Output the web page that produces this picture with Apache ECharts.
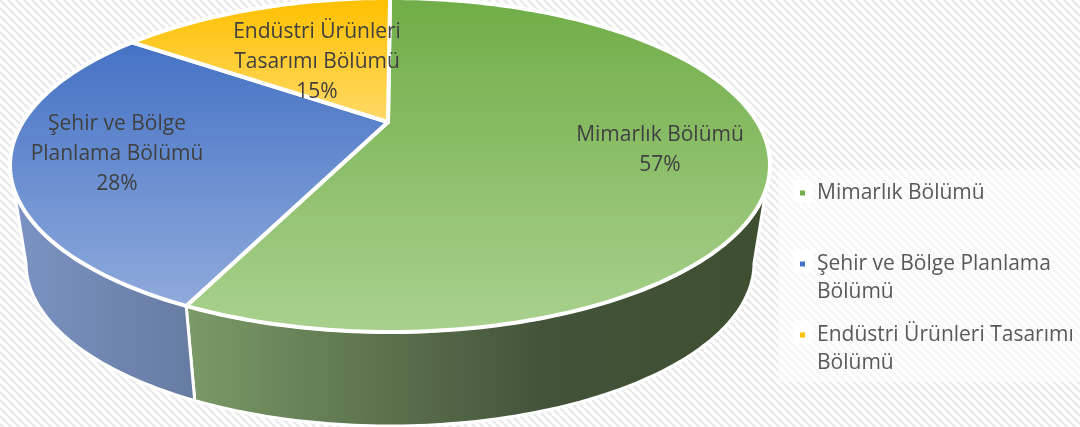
<!DOCTYPE html>
<html><head><meta charset="utf-8">
<style>html,body{margin:0;padding:0;background:#fff}#c{width:1080px;height:427px}</style>
<script src="https://cdn.jsdelivr.net/npm/echarts@6/dist/echarts.min.js"></script>
</head><body><div id="c"></div>
<script>
const categories = ['Mimarlık Bölümü', 'Şehir ve Bölge Planlama Bölümü', 'Endüstri Ürünleri Tasarımı Bölümü'];
const values = [57, 28, 15];
const labelLines = [['Mimarlık Bölümü'], ['Şehir ve Bölge', 'Planlama Bölümü'], ['Endüstri Ürünleri', 'Tasarımı Bölümü']];
const legendLines = [['Mimarlık Bölümü'], ['Şehir ve Bölge Planlama', 'Bölümü'], ['Endüstri Ürünleri Tasarımı', 'Bölümü']];
const markerColors = ['#70ad47', '#4472c4', '#ffc000'];

// layout & styling (not data)
const K = 0.2575;
const TOP = {cx: 390, cy: 165, rx: 380, ry: 167};
const BOTTOM = {cx: 390, cy: 263, rx: 364, ry: 163};
const labelCenters = [[660, 150], [117, 154], [317, 62]];
const faceGradients = [
  {y0: -2, y1: 332, c0: '#70ad47', c1: '#a9d18e'},
  {y0: 42, y1: 305, c0: '#4472c4', c1: '#8faadc'},
  {y0: -2, y1: 122, c0: '#ffc000', c1: '#ffd966'}
];
const wallRanges = [[105, null], [null, 255], null];
const wallStops = [
  {x0: 190, x1: 760, s: [[0, '#7a9a67'], [0.3, '#5f7650'], [0.62, '#43533a'], [1, '#3e4f31']]},
  {x0: 15, x1: 190, s: [[0, '#7b93c2'], [1, '#677ca3']]},
  null
];

function project(e, deg) {
  const t = deg * Math.PI / 180, u = Math.sin(t), v = -Math.cos(t);
  const w = 1 - K * v;
  return [e.cx + e.rx * Math.sqrt(1 - K * K) * u / w, e.cy + (e.ry * v - e.ry * K) / w];
}
function arc(e, a, b) {
  const pts = [], n = Math.max(2, Math.ceil(Math.abs(b - a)));
  for (let i = 0; i <= n; i++) pts.push(project(e, a + (b - a) * i / n));
  return pts;
}
const total = values.reduce((a, b) => a + b, 0);
function startAngle(i) { return values.slice(0, i).reduce((a, b) => a + b, 0) / total * 360; }

const FONT = '"Open Sans", sans-serif';
function renderSector(i) {
  return function (params, api) {
    const value = api.value(0);
    const a0 = startAngle(i), a1 = a0 + value / total * 360;
    const children = [];
    if (wallRanges[i]) {
      const from = wallRanges[i][0] === null ? a0 : wallRanges[i][0];
      const to = wallRanges[i][1] === null ? a1 : wallRanges[i][1];
      const pts = arc(TOP, from, to).concat(arc(BOTTOM, from, to).reverse());
      const g = wallStops[i];
      children.push({
        type: 'polygon', z2: 1, shape: {points: pts},
        style: {
          fill: new echarts.graphic.LinearGradient(g.x0, 0, g.x1, 0,
            g.s.map(s => ({offset: s[0], color: s[1]})), true),
          stroke: '#fff', lineWidth: 3, lineJoin: 'round'
        }
      });
    }
    const f = faceGradients[i];
    const apex = [TOP.cx - 2, TOP.cy - TOP.ry * K];
    children.push({
      type: 'polygon', z2: 2, shape: {points: [apex].concat(arc(TOP, a0, a1))},
      style: {
        fill: new echarts.graphic.LinearGradient(0, f.y0, 0, f.y1,
          [{offset: 0, color: f.c0}, {offset: 1, color: f.c1}], true),
        stroke: '#fff', lineWidth: 4, lineJoin: 'round'
      }
    });
    children.push({
      type: 'text', z2: 10, x: labelCenters[i][0], y: labelCenters[i][1],
      style: {
        text: labelLines[i].concat([value + '%']).join('\n'),
        font: '21px ' + FONT, lineHeight: 30, fill: '#404040',
        align: 'center', verticalAlign: 'middle'
      }
    });
    return {type: 'group', children};
  };
}

function tile() {
  const s = 8, c = document.createElement('canvas');
  c.width = s; c.height = s;
  const x = c.getContext('2d');
  x.fillStyle = '#ffffff'; x.fillRect(0, 0, s, s);
  x.strokeStyle = '#ebebeb'; x.lineWidth = 2.8;
  for (let k = -s; k <= 2 * s; k += s) {
    x.beginPath(); x.moveTo(k, 0); x.lineTo(k + s, s); x.stroke();
  }
  return c;
}

const chart = echarts.init(document.getElementById('c'), null, {renderer: 'canvas'});
chart.setOption({
  animation: false,
  backgroundColor: {image: tile(), repeat: 'repeat'},
  graphic: [
    {type: 'rect', z: 0, shape: {x: 778, y: 170, width: 302, height: 212}, style: {fill: 'rgba(255,255,255,0.55)'}},
    {type: 'rect', z: 0, shape: {x: 793, y: 180, width: 20, height: 23, r: 3}, style: {fill: 'rgba(255,255,255,0.9)'}},
    {type: 'rect', z: 0, shape: {x: 793, y: 250, width: 20, height: 23, r: 3}, style: {fill: 'rgba(255,255,255,0.9)'}},
    {type: 'rect', z: 0, shape: {x: 793, y: 321, width: 20, height: 23, r: 3}, style: {fill: 'rgba(255,255,255,0.9)'}}
  ],
  legend: {
    orient: 'vertical', left: 800, top: 151, padding: 0,
    data: categories, selectedMode: false,
    icon: 'rect', itemWidth: 5, itemHeight: 5, itemGap: -13,
    formatter: name => '\n' + legendLines[categories.indexOf(name)].concat(['', '']).slice(0, 2).join('\n'),
    textStyle: {fontFamily: '"Open Sans", sans-serif', fontSize: 21, lineHeight: 28, color: '#595959', padding: [0, 0, 0, 7]}
  },
  series: categories.map((name, i) => ({
    type: 'custom', name, coordinateSystem: 'none', clip: false, silent: true,
    z: 2, itemStyle: {color: markerColors[i]},
    renderItem: renderSector(i),
    data: [[values[i]]]
  }))
});
</script></body></html>
